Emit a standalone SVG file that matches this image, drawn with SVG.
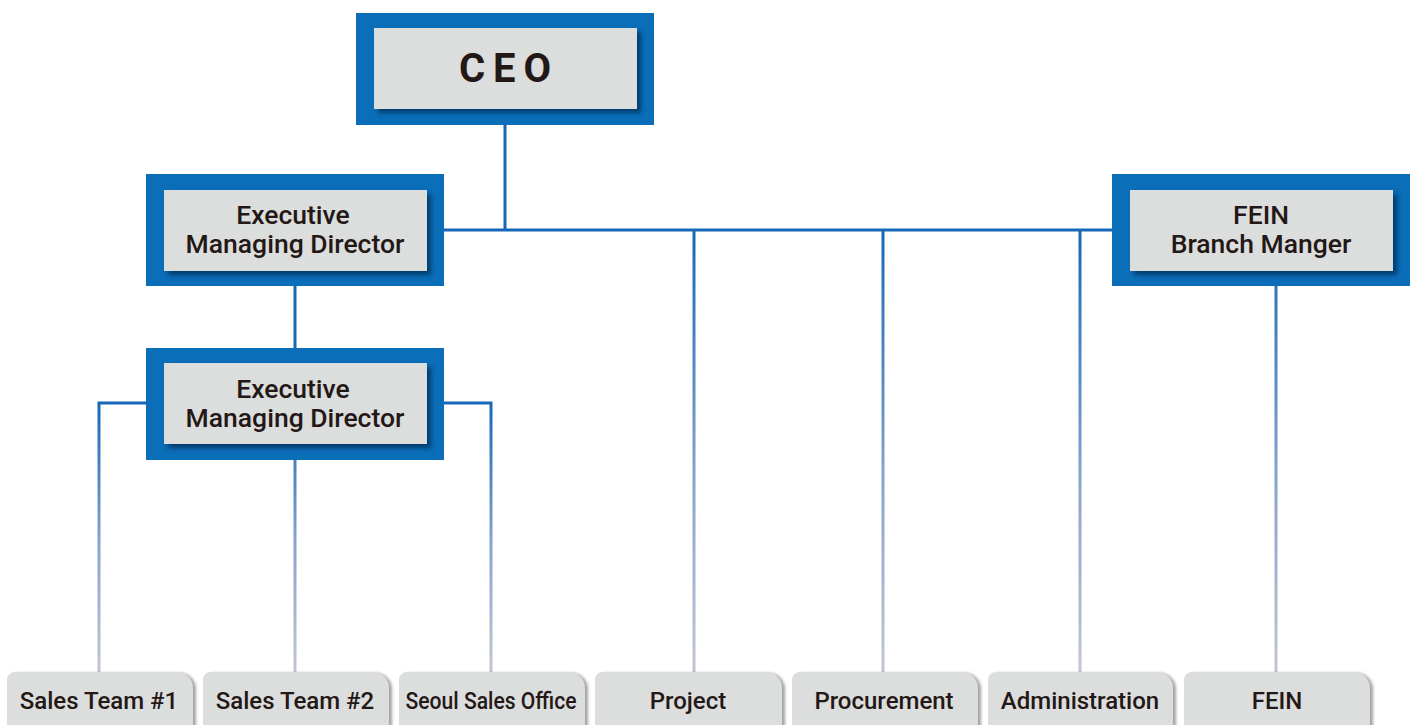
<svg xmlns="http://www.w3.org/2000/svg" width="1415" height="725" viewBox="0 0 1415 725">
<defs>
<style>
.outer{fill:#0a6eb9}
.inner{fill:#dcdddd;filter:url(#sh)}
.t{font-family:Roboto,"Liberation Sans",sans-serif;font-weight:500;fill:#231815;text-anchor:middle}
.big{font-size:26.5px}
.ceo{font-size:40px;font-weight:700;letter-spacing:8px}
.small{font-size:24px}
.leaf{fill:#dcdddd;filter:url(#sh2)}
.c{fill:none;stroke-width:3}
</style>
<filter id="sh" x="-10%" y="-10%" width="125%" height="135%">
<feDropShadow dx="4" dy="4" stdDeviation="2.5" flood-color="#06335e" flood-opacity="0.85"/>
</filter>
<filter id="sh2" x="-10%" y="-10%" width="125%" height="135%">
<feDropShadow dx="3" dy="1" stdDeviation="1.5" flood-color="#8a8c8e" flood-opacity="0.8"/>
</filter>
<linearGradient id="g" gradientUnits="userSpaceOnUse" x1="0" y1="230" x2="0" y2="672">
<stop offset="0" stop-color="#1668b6"/>
<stop offset="0.55" stop-color="#86a2cc"/>
<stop offset="1" stop-color="#c2c6d2"/>
</linearGradient>
<linearGradient id="g2" gradientUnits="userSpaceOnUse" x1="0" y1="403" x2="0" y2="672">
<stop offset="0" stop-color="#1668b6"/>
<stop offset="0.5" stop-color="#86a2cc"/>
<stop offset="1" stop-color="#c2c6d2"/>
</linearGradient>
</defs>
<g id="connectors">
<path class="c" stroke="#1668b6" d="M505,125 V230 M444,230 H1112 M295,286 V348"/>
<path class="c" stroke="url(#g)" d="M694,230 V672 M883,230 V672 M1080,230 V672 M1276,286 V672"/>
<path class="c" stroke="url(#g2)" d="M146,403 H99 V672 M444,403 H491 V672 M295,460 V672"/>
</g>
<g id="ceo">
<rect class="outer" x="356" y="13" width="298" height="112"/>
<rect class="inner" x="374" y="28" width="263" height="81"/>
<text class="t ceo" x="509" y="82">CEO</text>
</g>
<g id="emd1">
<rect class="outer" x="146" y="174" width="298" height="112"/>
<rect class="inner" x="164" y="190" width="263" height="81"/>
<text class="t big" x="293" y="224">Executive</text>
<text class="t big" x="295" y="253">Managing Director</text>
</g>
<g id="emd2">
<rect class="outer" x="146" y="348" width="298" height="112"/>
<rect class="inner" x="164" y="363" width="263" height="81"/>
<text class="t big" x="293" y="398">Executive</text>
<text class="t big" x="295" y="427">Managing Director</text>
</g>
<g id="fein-branch">
<rect class="outer" x="1112" y="174" width="298" height="112"/>
<rect class="inner" x="1130" y="190" width="263" height="81"/>
<text class="t big" x="1261" y="224">FEIN</text>
<text class="t big" x="1261" y="253">Branch Manger</text>
</g>
<g id="sales1">
<path class="leaf" d="M7,730 V680 A8,8 0 0 1 15,672 H177 A16,16 0 0 1 193,688 V730 Z"/>
<text class="t small" x="99" y="709">Sales Team #1</text>
</g>
<g id="sales2">
<path class="leaf" d="M203,730 V680 A8,8 0 0 1 211,672 H373 A16,16 0 0 1 389,688 V730 Z"/>
<text class="t small" x="295" y="709">Sales Team #2</text>
</g>
<g id="seoul">
<path class="leaf" d="M399,730 V680 A8,8 0 0 1 407,672 H569 A16,16 0 0 1 585,688 V730 Z"/>
<text class="t small" x="491" y="709" textLength="171" lengthAdjust="spacingAndGlyphs">Seoul Sales Office</text>
</g>
<g id="project">
<path class="leaf" d="M595,730 V680 A8,8 0 0 1 603,672 H766 A16,16 0 0 1 782,688 V730 Z"/>
<text class="t small" x="688" y="709">Project</text>
</g>
<g id="procurement">
<path class="leaf" d="M792,730 V680 A8,8 0 0 1 800,672 H962 A16,16 0 0 1 978,688 V730 Z"/>
<text class="t small" x="884" y="709">Procurement</text>
</g>
<g id="administration">
<path class="leaf" d="M988,730 V680 A8,8 0 0 1 996,672 H1157 A16,16 0 0 1 1173,688 V730 Z"/>
<text class="t small" x="1080" y="709">Administration</text>
</g>
<g id="fein">
<path class="leaf" d="M1184,730 V680 A8,8 0 0 1 1192,672 H1354 A16,16 0 0 1 1370,688 V730 Z"/>
<text class="t small" x="1277" y="709">FEIN</text>
</g>
</svg>
